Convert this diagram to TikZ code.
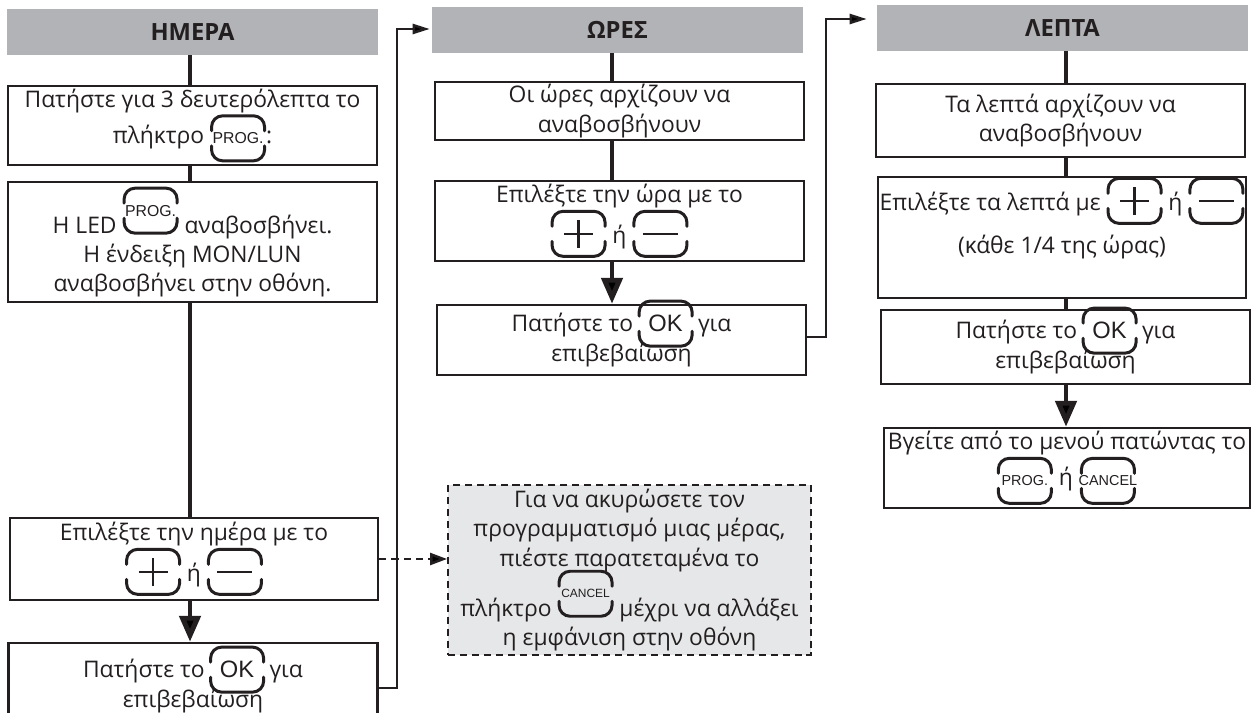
\documentclass[tikz,border=0pt]{standalone}
\usepackage{fontspec}
\setmainfont{Open Sans}
\newfontfamily\keyfont{Liberation Sans}
\usetikzlibrary{arrows.meta}

\definecolor{ink}{HTML}{231F20}
\definecolor{headgray}{HTML}{B1B3B6}
\definecolor{notegray}{HTML}{E6E7E8}

\tikzset{
    keybox/.style={shape=rectangle, anchor=center, inner sep=0pt, outer sep=0pt, minimum width=1.06cm, minimum height=0pt},
    keyline/.style={line width=1.7pt, rounded corners=0.22cm, line cap=round},
    head/.style={fill=headgray, inner sep=0pt, minimum width=7.42cm, minimum height=0.92cm, text=ink, font=\bfseries\fontsize{13.5}{16}\selectfont},
    stepbox/.style={draw=ink, line width=1.4pt, fill=white, align=center, inner xsep=0pt, inner ysep=0pt, minimum width=7.38cm, text=ink, font=\fontsize{13}{16.7}\selectfont},
    notebox/.style={stepbox, fill=notegray, line width=1.1pt, dash pattern=on 4pt off 2.8pt},
    trunk/.style={draw=ink, line width=2.8pt},
    trunkarrow/.style={trunk, -{Triangle[length=0.52cm, width=0.42cm]}},
    loopback/.style={draw=ink, line width=1.4pt, -{Triangle[length=0.34cm, width=0.2cm]}},
    dashlink/.style={draw=ink, line width=1.4pt, dash pattern=on 4pt off 3pt, -{Triangle[length=0.34cm, width=0.24cm]}}
}

% the two brackets round a key
\newcommand{\keyframe}[1][]{%
    \draw[keyline,#1] ([shift={(-0.53cm,0.15cm)}]kt.center) -- ([shift={(-0.53cm,0.45cm)}]kt.center)
        -- ([shift={(0.53cm,0.45cm)}]kt.center) -- ([shift={(0.53cm,0.15cm)}]kt.center);
    \draw[keyline,#1] ([shift={(-0.53cm,-0.15cm)}]kt.center) -- ([shift={(-0.53cm,-0.45cm)}]kt.center)
        -- ([shift={(0.53cm,-0.45cm)}]kt.center) -- ([shift={(0.53cm,-0.15cm)}]kt.center);}
\newcommand{\keyat}[2][9]{\tikz[baseline=(kt.base)]{\node[keybox, font=\keyfont\fontsize{#1}{#1}\selectfont] (kt) {#2}; \keyframe}}
\newcommand{\keyup}[2][9]{\tikz[baseline={([yshift=-0.45cm]kt.center)}]{\node[keybox, font=\keyfont\fontsize{#1}{#1}\selectfont] (kt) {#2}; \keyframe}}
\newcommand{\keyok}{\tikz[baseline=(kt.base)]{\node[keybox, font=\keyfont\fontsize{13.5}{15}\selectfont] (kt) {OK}; \keyframe[overlay]}}
\newcommand{\keyplus}{\tikz[baseline={([yshift=-0.2cm]kt.center)}]{\node[keybox, minimum height=0.9cm] (kt) {}; \keyframe;
    \draw[line width=1.5pt] ([xshift=-0.29cm]kt.center) -- ([xshift=0.29cm]kt.center)
        ([yshift=-0.28cm]kt.center) -- ([yshift=0.28cm]kt.center);}}
\newcommand{\keyminus}{\tikz[baseline={([yshift=-0.2cm]kt.center)}]{\node[keybox, minimum height=0.9cm] (kt) {}; \keyframe;
    \draw[line width=1.5pt] ([xshift=-0.35cm]kt.center) -- ([xshift=0.35cm]kt.center);}}

\begin{document}
\begin{tikzpicture}[x=0.02cm, y=-0.02cm]
    \useasboundingbox (0,0) rectangle (1251,713);
    \clip (0,0) rectangle (1251,713);

    % day column
    \node[head] (hday) at (192.5,32) {ΗΜΕΡΑ};
    \node[stepbox, minimum height=1.58cm] (d1) at (192.5,125.5) {Πατήστε για 3 δευτερόλεπτα το\\ πλήκτρο \keyat{PROG.}:};
    \node[stepbox, minimum height=2.4cm] (d2) at (192.5,242) {Η LED \keyup{PROG.} αναβοσβήνει.\\ Η ένδειξη MON/LUN\\ αναβοσβήνει στην οθόνη.};
    \node[stepbox, minimum width=7.36cm, minimum height=1.64cm] (d3) at (194,559) {Επιλέξτε την ημέρα με το\\ \keyplus\ ή \keyminus};
    \node[stepbox, minimum height=1.72cm] (d4) at (193,686) {Πατήστε το \keyok\ για\\ επιβεβαίωση};

    % hour column
    \node[head] (hhour) at (617.5,30) {ΩΡΕΣ};
    \node[stepbox, minimum height=1.16cm] (h1) at (619.5,111) {Οι ώρες αρχίζουν να\\ αναβοσβήνουν};
    \node[stepbox, minimum height=1.6cm] (h2) at (619.5,221) {Επιλέξτε την ώρα με το\\ \keyplus\ ή \keyminus};
    \node[stepbox, minimum height=1.4cm] (h3) at (621.5,340) {Πατήστε το \keyok\ για\\ επιβεβαίωση};

    % minute column
    \node[head] (hmin) at (1062.5,28) {ΛΕΠΤΑ};
    \node[stepbox, minimum height=1.46cm] (m1) at (1060.5,120.5) {Τα λεπτά αρχίζουν να\\ αναβοσβήνουν};
    \node[stepbox, minimum width=7.36cm, minimum height=2.22cm] (m2) at (1062,237.5) {Επιλέξτε τα λεπτά με \keyplus\ ή \keyminus\\[5pt] (κάθε 1/4 της ώρας)\\[0.3cm]\mbox{}};
    \node[stepbox, minimum height=1.48cm] (m3) at (1065.5,347) {Πατήστε το \keyok\ για\\ επιβεβαίωση};
    \node[stepbox, minimum width=7.32cm, minimum height=1.6cm] (m4) at (1067,468) {Βγείτε από το μενού πατώντας το\\ \keyat[8.2]{PROG.} ή \keyat[8.2]{CANCEL}};

    \node[notebox, minimum width=7.26cm, minimum height=3.4cm] (note) at (629.5,570) {Για να ακυρώσετε τον\\ προγραμματισμό μιας μέρας,\\ πιέστε παρατεταμένα το\\[-2pt] πλήκτρο \keyup[6.8]{CANCEL} μέχρι να αλλάξει\\ η εμφάνιση στην οθόνη};

    \coordinate (axd) at (190,0);
    \coordinate (axh) at (612,0);
    \coordinate (axm) at (1066,0);
    \coordinate (ld) at (397,29);
    \coordinate (lh) at (826,19);

    \draw[trunk] (hday.south -| axd) -- (d1.north -| axd);
    \draw[trunk] (d1.south -| axd) -- (d2.north -| axd);
    \draw[trunk] (d2.south -| axd) -- (d3.north -| axd);
    \draw[trunkarrow] (d3.south -| axd) -- (d4.north -| axd);

    \draw[trunk] (hhour.south -| axh) -- (h1.north -| axh);
    \draw[trunk] (h1.south -| axh) -- (h2.north -| axh);
    \draw[trunkarrow] (h2.south -| axh) -- (h3.north -| axh);

    \draw[trunk] (hmin.south -| axm) -- (m1.north -| axm);
    \draw[trunk] (m1.south -| axm) -- (m2.north -| axm);
    \draw[trunk] (m2.south -| axm) -- (m3.north -| axm);
    \draw[trunkarrow] (m3.south -| axm) -- (m4.north -| axm);

    \draw[loopback, shorten >=0.04cm] (d4.east |- 0,688) -| (ld) -- (hhour.west |- ld);
    \draw[loopback, shorten >=0.2cm] (h3.east |- 0,337) -| (lh) -- (hmin.west |- lh);
    \draw[dashlink] (d3.east) -- (d3.east -| note.west);
\end{tikzpicture}
\end{document}
